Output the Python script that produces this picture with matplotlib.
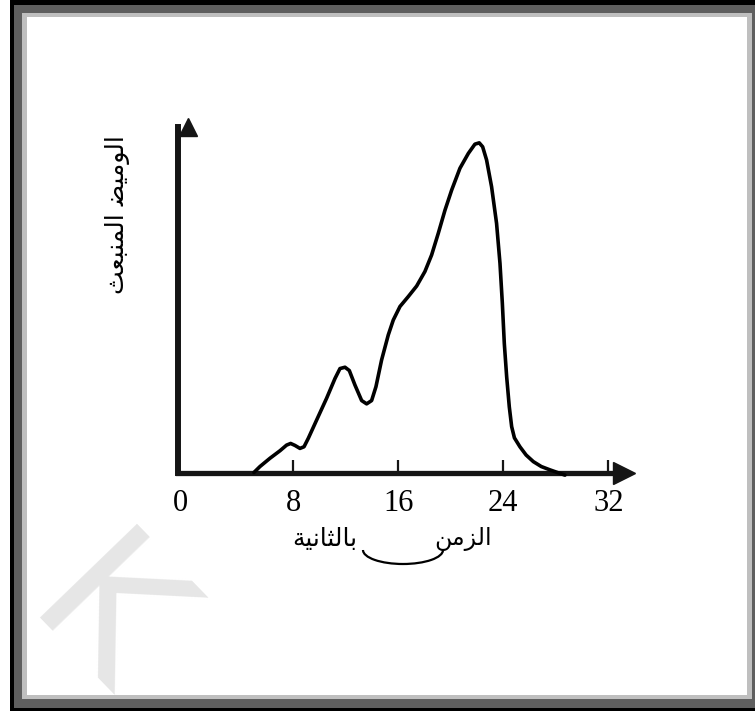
import matplotlib.pyplot as plt
from matplotlib.patches import Rectangle, Arc
from matplotlib.transforms import ScaledTranslation

# emitted flash intensity against time (s)
time_s = [5.0, 5.46, 6.22, 6.99, 7.49, 7.80, 8.13, 8.51, 8.82, 9.15, 9.78, 10.54,
          11.18, 11.56, 11.94, 12.27, 12.70, 13.21, 13.59, 13.97, 14.30, 14.73,
          15.24, 15.62, 16.13, 16.76, 17.40, 18.03, 18.54, 19.05, 19.56, 20.07,
          20.70, 21.34, 21.84, 22.17, 22.43, 22.73, 23.11, 23.49, 23.75, 23.93,
          24.08, 24.26, 24.46, 24.64, 24.85, 25.27, 25.74, 26.29, 26.90, 27.56, 28.7]
flash = [0.0, 1.8, 4.3, 6.6, 8.3, 8.8, 8.2, 7.3, 7.8, 10.4, 15.9, 22.5,
         28.5, 31.5, 31.9, 30.9, 26.5, 21.8, 20.8, 21.8, 26.0, 34.1,
         41.7, 46.2, 50.3, 53.3, 56.5, 60.9, 65.9, 72.5, 79.5, 85.6,
         92.2, 96.7, 99.5, 99.9, 98.7, 94.7, 86.6, 75.5, 63.4, 51.3,
         39.1, 29.0, 19.9, 13.9, 10.5, 7.8, 5.3, 3.3, 1.8, 0.8, -0.8]

tick_values = [0, 8, 16, 24, 32]
tick_labels = ["0", "8", "16", "24", "32"]

# Arabic titles written with presentation forms (logical order), reversed for LTR drawing
x_word_time = "\uFE8D\uFEDF\uFEB0\uFEE3\uFEE6"[::-1]                     # الزمن
x_word_seconds = "\uFE91\uFE8E\uFEDF\uFE9C\uFE8E\uFEE7\uFEF4\uFE94"[::-1]  # بالثانية
y_title = "\uFE8D\uFEDF\uFEEE\uFEE3\uFEF4\uFEC0 \uFE8D\uFEDF\uFEE4\uFEE8\uFE92\uFECC\uFE9A"[::-1]  # الوميض المنبعث

W, H = 755, 711
fig = plt.figure(figsize=(W / 100, H / 100), dpi=100)
fig.patch.set_facecolor("white")


def px_box(x0, y0, x1, y1, color, z):
    # rectangle given in pixel coords (origin top-left)
    r = Rectangle((x0 / W, 1 - y1 / H), (x1 - x0) / W, (y1 - y0) / H,
                  transform=fig.transFigure, facecolor=color, edgecolor="none", zorder=z)
    fig.add_artist(r)
    return r


# bevelled frame
px_box(10, 0, 760, 711, "black", -10)
px_box(14, 5, 760, 707.6, "#5f5f5f", -9)
px_box(22, 13, 751.7, 699, "#bfbfbf", -8)
px_box(27, 17, 746.7, 695, "white", -7)

# faint watermark letter
fig.text(100 / W, 1 - 625 / H, "K", fontsize=134, color="#e6e6e6", rotation=-46,
         rotation_mode="anchor", ha="center", va="center", family="DejaVu Sans",
         zorder=-6)

ax = fig.add_axes([178.3 / W, 1 - 472.5 / H, (624 - 178.3) / W, (472.5 - 127) / H])
ax.patch.set_alpha(0)
ax.set_xlim(-0.76, 33.2)
ax.set_ylim(0, 104.7)

ax.plot(time_s, flash, color="black", lw=2.6, solid_joinstyle="round",
        solid_capstyle="round", clip_on=False, zorder=3)

for side in ["top", "right"]:
    ax.spines[side].set_visible(False)
ax.spines["left"].set_linewidth(4.3)
ax.spines["bottom"].set_linewidth(3.8)
ax.spines["left"].set_color("#151515")
ax.spines["bottom"].set_color("#151515")
ax.spines["left"].set_capstyle("projecting")

# arrow heads on both axes
ax.plot(1, 0, marker=">", ms=16, color="#151515", transform=ax.get_yaxis_transform(),
        clip_on=False)
ax.plot(0, 1, marker="^", ms=13, color="#151515", transform=ax.get_xaxis_transform(),
        clip_on=False)

ax.set_xticks(tick_values)
ax.set_xticklabels(tick_labels, family="Liberation Serif", fontsize=22)
ax.tick_params(axis="x", direction="in", length=9.5, width=1.6, color="#151515", pad=12)
ax.xaxis.get_major_ticks()[0].tick1line.set_visible(False)
zero_label = ax.get_xticklabels()[0]
zero_label.set_transform(zero_label.get_transform() + ScaledTranslation(-0.08, 0, fig.dpi_scale_trans))
ax.set_yticks([])

# axis titles
fig.text(463 / W, 1 - 539 / H, x_word_time, fontsize=17, family="DejaVu Sans",
         ha="center", va="center")
fig.text(325 / W, 1 - 539 / H, x_word_seconds, fontsize=18, family="DejaVu Sans",
         ha="center", va="center")
fig.add_artist(Arc((403 / W, 1 - 550 / H), 80 / W, 28 / H, theta1=180, theta2=360,
                   transform=fig.transFigure, lw=1.6, color="black"))
fig.text(118 / W, 1 - 215 / H, y_title, fontsize=18, family="DejaVu Sans",
         rotation=90, ha="center", va="center")

fig.savefig("out.png", dpi=100)
